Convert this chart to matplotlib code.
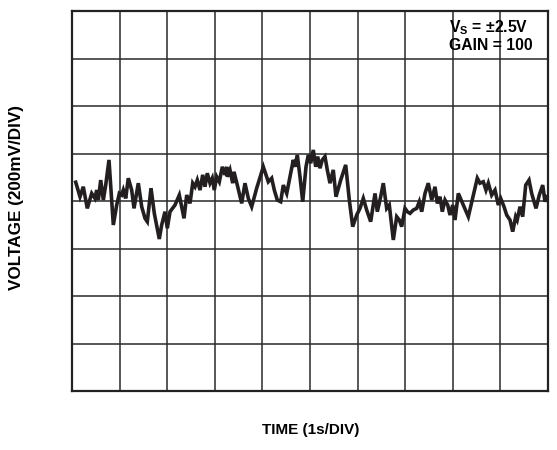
import matplotlib
matplotlib.use("Agg")
import matplotlib.pyplot as plt

plt.rcParams['font.family'] = ['Liberation Sans', 'DejaVu Sans']
plt.rcParams['mathtext.fontset'] = 'custom'
plt.rcParams['mathtext.rm'] = 'Liberation Sans:bold'
plt.rcParams['mathtext.bf'] = 'Liberation Sans:bold'

# time in seconds (1 s/div), voltage in mV (200 mV/div)
time_s = [0.078, 0.168, 0.237, 0.321, 0.414, 0.483, 0.519, 0.553, 0.603, 0.658, 0.708, 0.777,
          0.868, 0.939, 0.994, 1.044, 1.078, 1.128, 1.183, 1.254, 1.303, 1.393, 1.464, 1.534,
          1.582, 1.660, 1.729, 1.834, 1.884, 1.954, 2.002, 2.059, 2.164, 2.254, 2.353, 2.410,
          2.479, 2.536, 2.584, 2.632, 2.689, 2.746, 2.794, 2.842, 2.899, 2.947, 2.989, 3.040,
          3.095, 3.158, 3.214, 3.250, 3.263, 3.319, 3.376, 3.403, 3.473, 3.565, 3.634, 3.704,
          3.775, 3.880, 4.019, 4.124, 4.195, 4.250, 4.313, 4.384, 4.439, 4.511, 4.580, 4.649,
          4.685, 4.733, 4.790, 4.847, 4.916, 4.964, 5.015, 5.069, 5.120, 5.162, 5.210, 5.258,
          5.315, 5.363, 5.420, 5.489, 5.546, 5.645, 5.750, 5.826, 5.897, 5.981, 6.050, 6.120,
          6.191, 6.275, 6.366, 6.414, 6.485, 6.540, 6.611, 6.666, 6.750, 6.821, 6.876, 6.926,
          6.996, 7.044, 7.101, 7.170, 7.242, 7.296, 7.347, 7.416, 7.485, 7.557, 7.626, 7.674,
          7.731, 7.779, 7.836, 7.893, 7.941, 7.998, 8.046, 8.116, 8.221, 8.326, 8.431, 8.515,
          8.571, 8.641, 8.697, 8.746, 8.817, 8.887, 8.956, 9.006, 9.076, 9.132, 9.202, 9.258,
          9.321, 9.353, 9.412, 9.468, 9.532, 9.601, 9.657, 9.748, 9.817, 9.889, 9.937, 9.973]
voltage_mv = [79, 18, 60, -31, 32, 11, 46, 4, 88, 4, 67, 173,
              -101, -17, 32, 25, 46, 11, 96, 46, -31, 75, -24, -73,
              -87, 54, -52, -160, -101, -45, -115, -45, -17, 25, -73, 25,
              -10, 75, 60, 88, 46, 110, 60, 117, 75, 96, 46, 102,
              81, 144, 110, 144, 102, 131, 75, 123, 67, -10, 75, 11,
              -24, 54, 144, 81, 96, 46, 4, -3, 67, 32, 102, 173,
              144, 194, 102, -3, 144, 194, 159, 215, 144, 187, 138, 173,
              187, 131, 75, 131, 18, 88, 152, 4, -108, -59, -31, 11,
              -38, -87, 32, -45, 18, 75, -31, -17, -164, -66, -80, -108,
              -31, -45, -52, -38, -31, -3, -45, 32, 75, 4, 60, -10,
              18, -45, 4, -17, -59, -17, -80, 32, -17, -66, 25, 96,
              75, 81, 46, 75, 25, 46, -17, 11, -24, -59, -80, -129,
              -66, -80, -24, -66, 67, 88, 32, -31, 25, 67, -3, 18]

fig = plt.figure(figsize=(5.57, 4.5), dpi=100)
ax = fig.add_axes([72 / 557, 59 / 450, 476 / 557, 380 / 450])

ax.plot(time_s, voltage_mv, color='#231f20', lw=2.6, solid_joinstyle='miter')

ax.set_xlim(0, 10)
ax.set_ylim(-800, 800)
for x in range(1, 10):
    ax.axvline(x, color='#2a2a2a', lw=1.1, zorder=0)
for y in range(-600, 800, 200):
    ax.axhline(y, color='#2a2a2a', lw=1.1, zorder=0)
ax.set_xticks([])
ax.set_yticks([])
for s in ax.spines.values():
    s.set_linewidth(1.6)
    s.set_color('#222222')

fig.text(449 / 557, 1 - 32 / 450, r'V$_\mathrm{S}$ = ±2.5V', fontsize=11.3,
         fontweight='bold', ha='left', va='baseline')
fig.text(449 / 557, 1 - 50 / 450, 'GAIN = 100', fontsize=11.3,
         fontweight='bold', ha='left', va='baseline')

fig.text(311 / 557, 1 - 430 / 450, 'TIME (1s/DIV)', fontsize=11,
         fontweight='bold', ha='center', va='center')
fig.text(17 / 557, 1 - 197 / 450, 'VOLTAGE (200mV/DIV)', fontsize=12.3,
         fontweight='bold', ha='center', va='center', rotation=90)

fig.savefig('out.png', dpi=100)
